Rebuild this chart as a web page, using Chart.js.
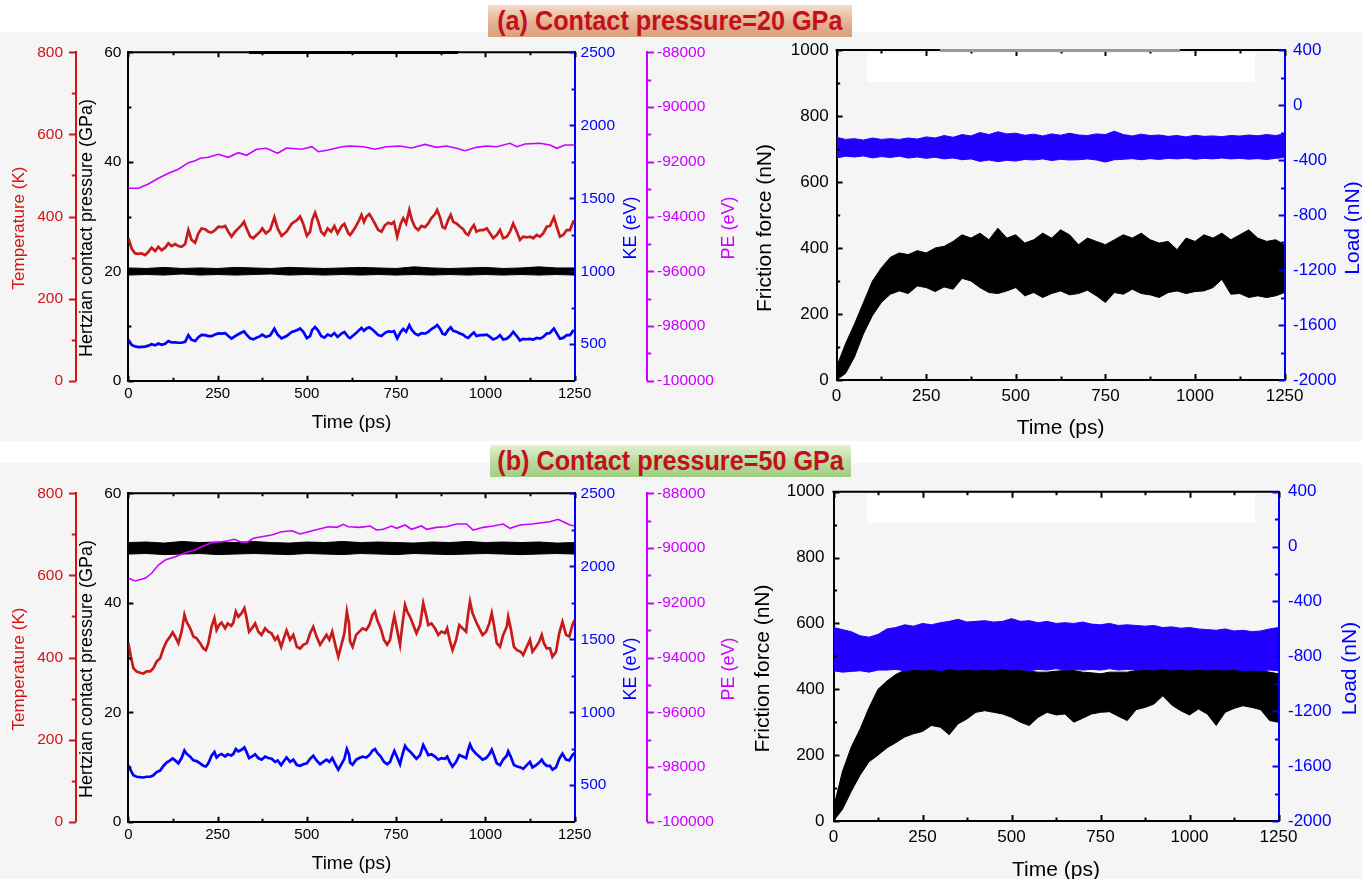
<!DOCTYPE html>
<html>
<head>
<meta charset="utf-8">
<script src="https://cdn.jsdelivr.net/npm/chart.js@4.4.1/dist/chart.umd.min.js"></script>
<style>
  html, body { margin: 0; padding: 0; }
  body { width: 1362px; height: 879px; overflow: hidden; position: relative; background: #f5f5f5; font-family: "Liberation Sans", Arial, sans-serif; }
  .strip { position: absolute; left: 0; width: 1362px; background: #fff; }
  .patch { position: absolute; }
  canvas { position: absolute; }
  .banner { position: absolute; display: flex; align-items: center; justify-content: center; overflow: hidden; }
  .banner span { display: inline-block; font-weight: bold; font-size: 28px; color: #c3101a; transform: scaleX(0.9); white-space: nowrap; }
</style>
</head>
<body>
<div class="strip" style="top:0;height:32px"></div>
<div class="strip" style="top:441px;height:22px"></div>
<div class="patch" style="left:867px;top:53px;width:388px;height:29px;background:#fff"></div>
<div class="patch" style="left:867px;top:494px;width:388px;height:29px;background:#fff"></div>

<canvas id="tl" width="750" height="418" style="left:0;top:22px"></canvas>
<canvas id="tr" width="680" height="420" style="left:720px;top:20px"></canvas>
<canvas id="bl" width="750" height="416" style="left:0;top:463px"></canvas>
<canvas id="br" width="680" height="428" style="left:720px;top:462px"></canvas>

<div class="patch" style="left:249px;top:51px;width:209px;height:3px;background:#000"></div>
<div class="patch" style="left:940px;top:49px;width:240px;height:3px;background:#999"></div>

<div class="banner" style="left:488px;top:5px;width:364px;height:32px;background:linear-gradient(#f6dccb,#e4b193 55%,#d9a07e)"><span>(a) Contact pressure=20 GPa</span></div>
<div class="banner" style="left:490px;top:445px;width:361px;height:32px;background:linear-gradient(#e2f0d6,#b7da9c 55%,#a2cf84)"><span>(b) Contact pressure=50 GPa</span></div>

<script>
// ---- (a) 20 GPa, left panel ----
const timeA = [
  0, 9, 19, 28, 37, 47, 56, 65, 75, 84,
  93, 103, 112, 121, 131, 140, 149, 159, 168, 177,
  187, 196, 205, 215, 224, 233, 243, 252, 261, 271,
  280, 289, 299, 308, 317, 324, 331, 341, 350, 359,
  369, 375, 385, 397, 409, 418, 429, 443, 458, 472,
  481, 490, 500, 509, 515, 523, 532, 540, 549, 558,
  568, 577, 586, 598, 605, 616, 621, 628, 638, 647,
  653, 660, 667, 675, 682, 691, 700, 709, 719, 728,
  737, 744, 753, 763, 770, 778, 787, 794, 803, 812,
  821, 831, 840, 849, 859, 865, 873, 880, 887, 896,
  903, 910, 919, 929, 938, 945, 952, 961, 968, 975,
  985, 994, 1004, 1013, 1022, 1032, 1041, 1050, 1060, 1069,
  1078, 1088, 1097, 1106, 1116, 1125, 1134, 1144, 1153, 1162,
  1172, 1181, 1192, 1200, 1209, 1218, 1228, 1237, 1248
];
const tempA = [
  347, 322, 310, 309, 310, 306, 314, 324, 316, 326,
  318, 324, 335, 328, 333, 328, 326, 333, 367, 343,
  336, 359, 371, 369, 363, 361, 367, 375, 374, 377,
  363, 351, 363, 371, 379, 387, 371, 351, 347, 355,
  363, 371, 359, 367, 398, 371, 353, 363, 383, 391,
  400, 382, 353, 363, 392, 409, 387, 363, 355, 371,
  363, 377, 359, 377, 382, 359, 355, 363, 377, 392,
  404, 387, 400, 406, 396, 382, 367, 363, 379, 385,
  382, 387, 351, 383, 396, 383, 416, 392, 374, 367,
  377, 374, 383, 396, 406, 416, 398, 374, 371, 392,
  404, 387, 383, 375, 369, 359, 355, 371, 379, 363,
  367, 367, 371, 359, 347, 355, 367, 347, 351, 363,
  383, 363, 343, 351, 349, 351, 347, 355, 351, 359,
  375, 377, 398, 375, 351, 355, 367, 367, 391
];
const keA = [
  530, 495, 485, 480, 482, 484, 490, 500, 492, 505,
  496, 503, 522, 512, 512, 510, 510, 516, 562, 530,
  522, 548, 564, 562, 556, 555, 566, 574, 572, 576,
  556, 538, 555, 568, 580, 588, 566, 540, 533, 545,
  555, 566, 550, 560, 606, 566, 540, 556, 584, 596,
  608, 585, 542, 555, 598, 618, 592, 556, 545, 566,
  556, 576, 550, 575, 584, 549, 542, 556, 576, 598,
  612, 592, 608, 616, 604, 584, 562, 556, 578, 588,
  584, 590, 540, 585, 604, 585, 630, 598, 572, 562,
  576, 572, 585, 604, 618, 632, 606, 572, 566, 598,
  615, 592, 585, 574, 565, 550, 543, 566, 580, 556,
  562, 562, 566, 550, 532, 543, 562, 532, 538, 556,
  585, 556, 526, 537, 534, 537, 532, 543, 538, 550,
  573, 577, 608, 574, 538, 543, 562, 562, 598
];
const timePEA = [0, 28, 56, 84, 112, 140, 168, 187, 201, 224, 252, 280, 308, 331, 359, 387, 418, 443, 486, 514,
  532, 560, 598, 621, 658, 691, 723, 761, 793, 831, 863, 891, 919, 943, 975, 1004, 1032, 1069, 1088, 1111,
  1153, 1181, 1200, 1223, 1250];
const peA = [-92970, -92970, -92812, -92604, -92421, -92275, -92034, -91961, -91874, -91837,
  -91727, -91837, -91669, -91764, -91544, -91508, -91691, -91497, -91544, -91449,
  -91632, -91570, -91449, -91424, -91449, -91544, -91449, -91424, -91497, -91364,
  -91473, -91424, -91508, -91596, -91473, -91424, -91449, -91325, -91449, -91352,
  -91325, -91388, -91508, -91388, -91388];

// Hertzian contact pressure band (upper / lower edge of the noisy trace)
const timeBand = [0, 50, 100, 150, 200, 250, 300, 350, 400, 450, 500, 550, 600, 650, 700, 750, 800, 850, 900, 950, 1000, 1050, 1100, 1150, 1200, 1250];
const pressHiA = [20.6, 20.5, 20.7, 20.5, 20.6, 20.5, 20.7, 20.6, 20.5, 20.7, 20.6, 20.5, 20.6, 20.7, 20.6, 20.5, 20.8, 20.6, 20.5, 20.6, 20.7, 20.5, 20.6, 20.8, 20.6, 20.6];
const pressLoA = [19.3, 19.4, 19.3, 19.5, 19.3, 19.4, 19.3, 19.4, 19.5, 19.3, 19.4, 19.3, 19.4, 19.3, 19.4, 19.3, 19.4, 19.3, 19.4, 19.3, 19.4, 19.3, 19.4, 19.3, 19.4, 19.3];

// ---- (b) 50 GPa, left panel ----
const timeB = [
  0, 7, 14, 23, 33, 42, 51, 61, 70, 79,
  89, 98, 107, 117, 124, 131, 140, 149, 157, 163,
  173, 182, 191, 201, 210, 217, 224, 233, 241, 247,
  254, 261, 271, 278, 288, 294, 301, 308, 317, 325,
  331, 338, 346, 355, 364, 373, 383, 392, 401, 411,
  418, 428, 434, 443, 453, 462, 472, 481, 490, 500,
  509, 518, 527, 537, 546, 555, 563, 571, 581, 588,
  598, 605, 612, 618, 621, 628, 638, 647, 656, 666,
  675, 684, 691, 697, 707, 716, 725, 733, 740, 745,
  751, 761, 768, 775, 781, 789, 798, 807, 817, 826,
  834, 840, 849, 859, 868, 877, 887, 893, 901, 908,
  918, 927, 936, 946, 952, 957, 964, 974, 983, 992,
  1002, 1011, 1018, 1024, 1032, 1041, 1050, 1060, 1064, 1071,
  1080, 1089, 1099, 1106, 1116, 1125, 1132, 1142, 1151, 1158,
  1164, 1172, 1181, 1188, 1198, 1207, 1216, 1226, 1235, 1244,
  1250
];
const tempB = [
  435, 402, 374, 366, 363, 361, 366, 366, 374, 390,
  398, 422, 439, 451, 461, 451, 435, 463, 504, 487,
  471, 451, 447, 435, 422, 418, 435, 475, 496, 467,
  479, 485, 471, 483, 477, 485, 512, 499, 508, 520,
  496, 463, 471, 483, 463, 455, 471, 463, 459, 443,
  451, 426, 443, 466, 443, 455, 426, 422, 431, 435,
  459, 475, 451, 431, 443, 455, 443, 463, 426, 402,
  435, 459, 512, 483, 439, 426, 455, 463, 471, 467,
  479, 504, 512, 491, 471, 443, 431, 443, 479, 501,
  475, 431, 483, 528, 512, 499, 479, 459, 479, 532,
  504, 479, 483, 471, 455, 463, 459, 471, 439, 418,
  443, 479, 471, 463, 508, 536, 508, 487, 471, 455,
  463, 483, 508, 479, 435, 426, 455, 475, 499, 471,
  426, 418, 414, 406, 426, 443, 414, 426, 439, 455,
  435, 422, 422, 402, 414, 459, 487, 455, 451, 479,
  491
];
const keB = [
  634, 600, 568, 558, 555, 553, 558, 558, 568, 590,
  600, 632, 655, 670, 683, 670, 650, 686, 738, 716,
  696, 670, 665, 650, 633, 628, 650, 702, 728, 690,
  706, 714, 696, 712, 704, 714, 748, 732, 743, 759,
  728, 686, 696, 712, 686, 675, 696, 686, 681, 660,
  670, 638, 660, 690, 660, 675, 638, 633, 644, 650,
  681, 702, 670, 644, 660, 675, 660, 686, 638, 606,
  650, 681, 748, 712, 655, 640, 675, 686, 696, 690,
  706, 738, 748, 722, 696, 660, 644, 660, 706, 735,
  702, 644, 712, 770, 748, 732, 706, 681, 706, 775,
  738, 706, 712, 696, 675, 686, 681, 696, 655, 628,
  660, 706, 696, 686, 743, 780, 743, 716, 696, 675,
  686, 712, 743, 706, 650, 638, 675, 702, 732, 696,
  638, 628, 622, 612, 638, 660, 622, 638, 655, 675,
  650, 633, 633, 606, 622, 681, 716, 675, 670, 706,
  722
];
const timePEB = [0, 19, 47, 65, 84, 103, 131, 159, 187, 205, 233, 261, 280, 297, 313, 331, 350, 373, 401, 429,
  458, 481, 504, 532, 560, 584, 602, 616, 649, 677, 695, 714, 737, 751, 775, 793, 821, 835, 863, 891,
  919, 947, 966, 994, 1022, 1050, 1069, 1097, 1130, 1158, 1181, 1204, 1218, 1237, 1250];
const peB = [-91106, -91205, -91106, -90923, -90620, -90437, -90317, -90170, -90072, -89951,
  -89805, -89769, -89732, -89681, -89769, -89805, -89644, -89586, -89524, -89403,
  -89367, -89487, -89403, -89315, -89220, -89244, -89133, -89220, -89244, -89195,
  -89341, -89315, -89195, -89279, -89157, -89315, -89195, -89315, -89244, -89220,
  -89122, -89122, -89341, -89244, -89195, -89122, -89279, -89157, -89122, -89074,
  -89038, -88950, -89038, -89157, -89195];
const pressHiB = [51.0, 51.1, 50.9, 51.2, 51.0, 51.1, 51.0, 51.2, 51.0, 50.9, 51.1, 51.0, 51.2, 51.0, 51.1, 51.0, 50.9, 51.1, 51.0, 51.2, 51.0, 51.1, 51.0, 51.1, 50.9, 51.0];
const pressLoB = [48.9, 49.0, 48.8, 48.9, 49.0, 48.8, 48.9, 49.0, 48.9, 48.8, 49.0, 48.9, 48.8, 49.0, 48.9, 48.8, 49.0, 48.9, 48.8, 48.9, 49.0, 48.9, 48.8, 48.9, 49.0, 48.9];

// ---- right panels: friction force and load bands (upper / lower edge) ----
const timeF = [0, 25, 50, 75, 100, 125, 150, 175, 200, 225, 250, 275, 300, 325, 350, 375, 400, 425, 450, 475,
  500, 525, 550, 575, 600, 625, 650, 675, 700, 725, 750, 775, 800, 825, 850, 875, 900, 925, 950, 975,
  1000, 1025, 1050, 1075, 1100, 1125, 1150, 1175, 1200, 1225, 1250];
const fricHiA = [40, 110, 170, 235, 300, 340, 372, 385, 380, 392, 385, 400, 405, 420, 440, 430, 445, 425, 460, 430,
  440, 415, 425, 445, 430, 455, 440, 410, 430, 420, 410, 425, 440, 430, 445, 425, 415, 420, 395, 430,
  420, 440, 430, 445, 425, 440, 455, 430, 420, 425, 410];
const fricLoA = [0, 20, 70, 140, 195, 235, 260, 270, 262, 285, 280, 268, 282, 275, 308, 300, 280, 265, 262, 270,
  280, 255, 265, 250, 262, 270, 258, 262, 272, 255, 235, 265, 260, 275, 262, 258, 250, 265, 270, 262,
  268, 270, 280, 305, 260, 262, 250, 255, 250, 255, 265];
const loadHiA = [-235, -250, -245, -255, -240, -250, -245, -250, -240, -248, -232, -240, -222, -235, -215, -225, -200, -215, -195, -210,
  -205, -220, -212, -225, -210, -220, -205, -218, -222, -210, -215, -190, -215, -225, -212, -222, -218, -228, -222, -232,
  -220, -228, -225, -230, -222, -226, -218, -224, -215, -222, -210];
const loadLoA = [-385, -372, -378, -370, -385, -375, -382, -372, -386, -378, -388, -380, -392, -385, -398, -392, -410, -400, -412, -402,
  -408, -396, -400, -392, -404, -395, -400, -398, -392, -400, -415, -398, -395, -390, -398, -390, -396, -388, -392, -386,
  -395, -388, -392, -385, -392, -388, -394, -390, -396, -388, -382];
const fricHiB = [40, 150, 225, 280, 345, 400, 425, 445, 458, 470, 478, 475, 480, 483, 478, 480, 475, 472, 470, 465,
  462, 458, 455, 452, 452, 455, 457, 457, 452, 450, 447, 452, 452, 452, 457, 460, 463, 468, 463, 463,
  462, 463, 460, 462, 463, 463, 463, 460, 457, 452, 447];
const fricLoB = [0, 35, 90, 140, 180, 200, 222, 238, 255, 265, 272, 290, 285, 262, 295, 310, 330, 335, 330, 325,
  315, 300, 290, 315, 330, 322, 325, 300, 312, 325, 330, 332, 318, 305, 338, 345, 355, 380, 352, 335,
  322, 340, 325, 290, 330, 342, 350, 345, 338, 305, 300];
const loadHiB = [-590, -605, -620, -650, -660, -640, -600, -590, -570, -580, -560, -570, -555, -545, -530, -550, -545, -540, -550, -545,
  -525, -545, -540, -555, -545, -560, -555, -560, -550, -565, -570, -560, -575, -570, -575, -580, -575, -590, -585, -595,
  -590, -600, -605, -610, -600, -615, -610, -620, -615, -600, -590];
const loadLoB = [-905, -915, -910, -905, -915, -900, -900, -895, -905, -895, -900, -895, -905, -890, -900, -895, -900, -895, -900, -890,
  -900, -895, -905, -895, -900, -890, -900, -895, -900, -895, -900, -890, -900, -895, -900, -895, -900, -890, -900, -895,
  -900, -895, -900, -895, -900, -895, -905, -900, -905, -900, -905];

const RED = '#c81a1a', RED_AX = '#d41414', BLUE = '#0000ff', MAG = '#cc00ff', LOADC = '#2200ff';
const FONT = '"Liberation Sans", Arial, sans-serif';

Chart.defaults.font.family = FONT;
Chart.defaults.animation = false;

function pts(xs, ys) {
  return xs.map((x, i) => ({ x: x, y: ys[i] }));
}

// inward / outward tick marks, top frame line and axis titles
const marks = {
  id: 'marks',
  afterDatasetsDraw(chart, args, o) {
    const ctx = chart.ctx, a = chart.chartArea;
    ctx.save();
    ctx.lineWidth = 2;
    ctx.strokeStyle = '#000';
    ctx.beginPath();
    ctx.moveTo(a.left - 1, a.top);
    ctx.lineTo(a.right + 1, a.top);
    ctx.stroke();
    o.axes.forEach(m => {
      const s = chart.scales[m.id];
      const major = s.ticks.map(t => t.value);
      const half = (major[1] - major[0]) / 2;
      const minor = [];
      major.forEach(v => [v - half, v + half].forEach(w => {
        if (w > s.min && w < s.max && !minor.includes(w) && !major.includes(w)) minor.push(w);
      }));
      ctx.strokeStyle = m.color;
      const draw = (v, len) => {
        const p = Math.round(s.getPixelForValue(v)) + 0.5;
        ctx.beginPath();
        if (s.isHorizontal()) {
          ctx.moveTo(p, a.bottom);
          ctx.lineTo(p, a.bottom - len);
          ctx.moveTo(p, a.top);
          ctx.lineTo(p, a.top + len);
        } else {
          const x0 = s.position === 'left' ? s.right : s.left;
          ctx.moveTo(x0, p);
          ctx.lineTo(x0 + m.dir * len, p);
        }
        ctx.stroke();
      };
      major.forEach(v => draw(v, m.len));
      minor.forEach(v => draw(v, m.len * 0.6));
    });
    o.titles.forEach(t => {
      ctx.save();
      ctx.translate(t.x, t.y);
      if (t.rot) ctx.rotate(-Math.PI / 2);
      ctx.font = t.size + 'px ' + FONT;
      ctx.fillStyle = t.color;
      ctx.textAlign = 'center';
      ctx.textBaseline = 'middle';
      ctx.fillText(t.text, 0, 0);
      ctx.restore();
    });
    ctx.restore();
  }
};

function axisBase(color, size, pad) {
  return {
    grid: { display: false, drawTicks: false },
    border: { display: true, color: color, width: 2 },
    ticks: { color: color, font: { size: size }, padding: pad, autoSkip: false, maxRotation: 0, callback: v => v }
  };
}

function leftChart(id, d, g) {
  const x = axisBase('#000', 15, g.xPad);
  Object.assign(x, { type: 'linear', position: 'bottom', min: 0, max: 1250, afterFit: s => { s.height = g.xH; } });
  x.ticks.stepSize = 250;
  const t = axisBase(RED_AX, 15.5, 13);
  Object.assign(t, { position: 'left', weight: 1, min: 0, max: 800, afterFit: s => { s.width = 76; } });
  t.ticks.stepSize = 200;
  const p = axisBase('#000', 15.5, 7);
  Object.assign(p, { position: 'left', weight: 0, min: 0, max: 60, afterFit: s => { s.width = 52.4; } });
  p.ticks.stepSize = 20;
  const ke = axisBase(BLUE, 15.5, 6);
  Object.assign(ke, {
    position: 'right', weight: 0, min: 250, max: 2500,
    afterBuildTicks: s => { s.ticks = [500, 1000, 1500, 2000, 2500].map(v => ({ value: v })); },
    afterFit: s => { s.width = 72.4; }
  });
  const pe = axisBase(MAG, 15.5, 10);
  Object.assign(pe, { position: 'right', weight: 1, min: -100000, max: -88000, afterFit: s => { s.width = 103; } });
  pe.ticks.stepSize = 2000;

  return new Chart(document.getElementById(id), {
    type: 'line',
    data: {
      datasets: [
        { data: pts(timeBand, d.pHi), yAxisID: 'p', borderColor: '#000', borderWidth: 1, order: 4 },
        { data: pts(timeBand, d.pLo), yAxisID: 'p', borderColor: '#000', borderWidth: 1, backgroundColor: '#000', fill: '-1', order: 3 },
        { data: pts(d.t, d.temp), yAxisID: 't', borderColor: RED, borderWidth: 2.7, order: 2 },
        { data: pts(d.t, d.ke), yAxisID: 'ke', borderColor: BLUE, borderWidth: 2.7, order: 1 },
        { data: pts(d.tpe, d.pe), yAxisID: 'pe', borderColor: MAG, borderWidth: 1.6, order: 0 }
      ]
    },
    options: {
      responsive: false,
      devicePixelRatio: 1,
      layout: { padding: { top: g.top, left: 0, right: 0, bottom: 0 } },
      elements: { point: { radius: 0 }, line: { tension: 0 } },
      plugins: {
        legend: { display: false },
        tooltip: { enabled: false },
        marks: {
          axes: [
            { id: 'x', color: '#000', len: 5 },
            { id: 'p', color: '#000', len: 5, dir: 1 },
            { id: 'ke', color: BLUE, len: 5, dir: -1 },
            { id: 't', color: RED_AX, len: 7, dir: -1 },
            { id: 'pe', color: MAG, len: 7, dir: 1 }
          ],
          titles: [
            { text: 'Temperature (K)', x: 19, y: g.ty, rot: true, color: RED_AX, size: 17 },
            { text: 'Hertzian contact pressure (GPa)', x: 87, y: g.ty, rot: true, color: '#000', size: 18 },
            { text: 'KE (eV)', x: 631, y: g.ty, rot: true, color: BLUE, size: 18 },
            { text: 'PE (eV)', x: 729, y: g.ty, rot: true, color: MAG, size: 18 },
            { text: 'Time (ps)', x: 351.5, y: g.xy, rot: false, color: '#000', size: 19 }
          ]
        }
      },
      scales: { x: x, t: t, p: p, ke: ke, pe: pe }
    },
    plugins: [marks]
  });
}

function rightChart(id, d, g) {
  const x = axisBase('#000', 17, g.xPad);
  Object.assign(x, { type: 'linear', position: 'bottom', min: 0, max: 1250, afterFit: s => { s.height = g.xH; } });
  x.ticks.stepSize = 250;
  const f = axisBase('#000', 17, g.fPad);
  Object.assign(f, { position: 'left', min: 0, max: 1000, afterFit: s => { s.width = g.left; } });
  f.ticks.stepSize = 200;
  const l = axisBase(BLUE, 17, g.lPad);
  Object.assign(l, { position: 'right', min: -2000, max: 400, afterFit: s => { s.width = g.right; } });
  l.ticks.stepSize = 400;

  return new Chart(document.getElementById(id), {
    type: 'line',
    data: {
      datasets: [
        { data: pts(timeF, d.fHi), yAxisID: 'f', borderColor: '#000', borderWidth: 1, order: 3 },
        { data: pts(timeF, d.fLo), yAxisID: 'f', borderColor: '#000', borderWidth: 1, backgroundColor: '#000', fill: '-1', order: 2 },
        { data: pts(timeF, d.lHi), yAxisID: 'l', borderColor: LOADC, borderWidth: 1, order: 1 },
        { data: pts(timeF, d.lLo), yAxisID: 'l', borderColor: LOADC, borderWidth: 1, backgroundColor: LOADC, fill: '-1', order: 0 }
      ]
    },
    options: {
      responsive: false,
      devicePixelRatio: 1,
      layout: { padding: { top: g.top, left: 0, right: 0, bottom: 0 } },
      elements: { point: { radius: 0 }, line: { tension: 0 } },
      plugins: {
        legend: { display: false },
        tooltip: { enabled: false },
        marks: {
          axes: [
            { id: 'x', color: '#000', len: 6 },
            { id: 'f', color: '#000', len: 6, dir: 1 },
            { id: 'l', color: BLUE, len: 6, dir: -1 }
          ],
          titles: [
            { text: 'Friction force (nN)', x: g.fx, y: g.ty, rot: true, color: '#000', size: 21 },
            { text: 'Load (nN)', x: g.lx, y: g.ty, rot: true, color: BLUE, size: 21 },
            { text: 'Time (ps)', x: g.xx, y: g.xy, rot: false, color: '#000', size: 21 }
          ]
        }
      },
      scales: { x: x, f: f, l: l }
    },
    plugins: [marks]
  });
}

leftChart('tl', { t: timeA, temp: tempA, ke: keA, tpe: timePEA, pe: peA, pHi: pressHiA, pLo: pressLoA },
  { top: 30.3, xH: 59.3, xPad: 4.6, ty: 206, xy: 400.7 });
leftChart('bl', { t: timeB, temp: tempB, ke: keB, tpe: timePEB, pe: peB, pHi: pressHiB, pLo: pressLoB },
  { top: 30.3, xH: 57.3, xPad: 4.3, ty: 206, xy: 400.3 });
rightChart('tr', { fHi: fricHiA, fLo: fricLoA, lHi: loadHiA, lLo: loadLoA },
  { top: 30, xH: 60, xPad: 5.8, left: 116.6, right: 115.4, fPad: 8, lPad: 8.4, fx: 45, lx: 633, ty: 208, xx: 340.6, xy: 408 });
rightChart('br', { fHi: fricHiB, fLo: fricLoB, lHi: loadHiB, lLo: loadLoB },
  { top: 29.7, xH: 69, xPad: 5.7, left: 113.5, right: 121.5, fPad: 9, lPad: 9.5, fx: 43, lx: 630, ty: 206.5, xx: 336, xy: 408 });
</script>
</body>
</html>
